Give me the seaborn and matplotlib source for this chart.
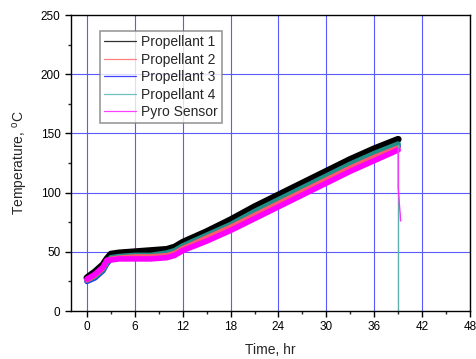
import matplotlib
matplotlib.use("Agg")
import matplotlib.pyplot as plt
import seaborn as sns
import pandas as pd
from matplotlib.lines import Line2D
from matplotlib.ticker import MultipleLocator

sns.set_style("white")
plt.rcParams['font.family'] = ['Liberation Sans', 'DejaVu Sans']

hours = [0, 1, 2, 2.5, 3, 4, 6, 8, 10, 11, 12, 15, 18, 21, 24, 27, 30, 33, 36, 39]
prop1 = [28, 33, 39, 44, 48, 49, 50, 51, 52, 54, 58, 67, 77, 88, 98, 108, 118, 128, 137, 145]
prop2 = [26, 30, 36, 42, 44, 45, 46, 46, 47, 49, 53, 62, 71, 81, 91, 101, 111, 121, 130, 138]
prop3 = [25, 28, 34, 40, 44, 45, 46, 46, 48, 50, 54, 63, 72, 82, 92, 102, 112, 122, 131, 139]
prop4 = [26, 29, 35, 41, 45, 46, 47, 47, 49, 51, 55, 64, 73, 84, 94, 104, 114, 124, 133, 141]
pyro = [27, 31, 37, 43, 43, 44, 44, 44, 45, 47, 51, 59, 68, 78, 88, 98, 108, 118, 127, 136]

# end-of-test drop readings
prop4_tail_t = [39.0, 39.0]
prop4_tail_v = [140, 0]
pyro_tail_t = [39.0, 39.0, 39.1, 39.15, 39.25, 39.3]
pyro_tail_v = [137, 104, 96, 90, 82, 76]

names = ["Propellant 1", "Propellant 2", "Propellant 3", "Propellant 4", "Pyro Sensor"]
colors = ["#000000", "#ff5a6e", "#2030ff", "#1f8f88", "#ff00ff"]
legend_colors = ["#303030", "#ff8080", "#4040ff", "#70c0c0", "#ff40ff"]

fig = plt.figure(figsize=(4.77, 3.59), dpi=100)
ax = fig.add_axes([71/477, 1-311/359, 399/477, 296/359])

ax.set_xlim(-2, 48)
ax.set_ylim(0, 250)
for v in range(0, 49, 6):
    ax.axvline(v, color="#5a5aff", lw=0.8, zorder=0)
for v in range(50, 250, 50):
    ax.axhline(v, color="#5a5aff", lw=0.8, zorder=0)

series = [prop1, prop3, prop4, prop2, pyro]
order_idx = [0, 2, 3, 1, 4]
lws = [5.0, 4.0, 4.0, 3.5, 4.0]
for s, i, lw in zip(series, order_idx, lws):
    df = pd.DataFrame({"t": hours, "v": s})
    sns.lineplot(data=df, x="t", y="v", color=colors[i], lw=lw, ax=ax, legend=False, zorder=2)

sns.lineplot(x=prop4_tail_t, y=prop4_tail_v, color="#5fb0ac", lw=1.0, ax=ax,
             legend=False, zorder=2, sort=False, estimator=None)
sns.lineplot(x=pyro_tail_t, y=pyro_tail_v, color="#ff30ff", lw=1.0, ax=ax,
             legend=False, zorder=3, sort=False, estimator=None)

ax.xaxis.set_major_locator(MultipleLocator(6))
ax.xaxis.set_minor_locator(MultipleLocator(3))
ax.yaxis.set_major_locator(MultipleLocator(50))
ax.yaxis.set_minor_locator(MultipleLocator(25))
ax.tick_params(axis="both", which="major", direction="out", length=4, width=1,
               labelsize=8.5, bottom=True, left=True, top=False, right=False, colors="black")
ax.tick_params(axis="both", which="minor", direction="out", length=2.5, width=1,
               bottom=True, left=True, top=False, right=False)
for sp in ax.spines.values():
    sp.set_color("black")
    sp.set_linewidth(1.0)

ax.set_xlabel("Time, hr", fontsize=10, labelpad=7)
ax.set_ylabel(r"Temperature, $^\mathregular{o}$C", fontsize=10, labelpad=8)

handles = [Line2D([0], [0], color=c, lw=0.9) for c in legend_colors]
leg = ax.legend(handles, names, loc="upper left", bbox_to_anchor=(29/399, 1-16/296),
                fontsize=10, frameon=True, fancybox=False, handlelength=2.3,
                handletextpad=0.35, labelspacing=0.25, borderpad=0.3, borderaxespad=0)
leg.get_frame().set_edgecolor("#808080")
leg.get_frame().set_linewidth(1.2)

fig.savefig("out.png", dpi=100)
